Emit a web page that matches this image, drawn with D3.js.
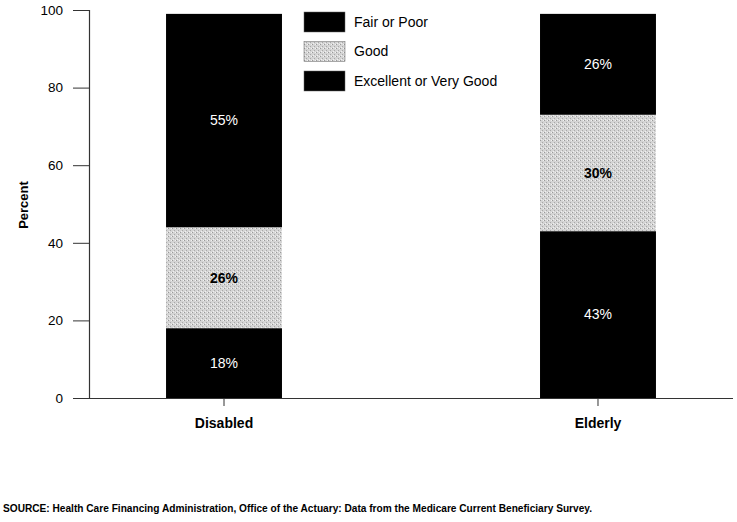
<!DOCTYPE html>
<html><head><meta charset="utf-8">
<script src="https://cdn.jsdelivr.net/npm/d3@7"></script>
<style>body{margin:0;background:#fff}svg{display:block}text{font-family:Arial,"Liberation Sans",Helvetica,sans-serif}</style>
</head><body>
<svg id="c" width="737" height="522"></svg>
<script>
const categories = ["Disabled", "Elderly"];
const seriesNames = ["Excellent or Very Good", "Good", "Fair or Poor"];
const excellent = [18, 43];
const good = [26, 30];
const fairPoor = [55, 26];
const yTicks = [0, 20, 40, 60, 80, 100];
const yTitle = "Percent";
const source = "SOURCE: Health Care Financing Administration, Office of the Actuary: Data from the Medicare Current Beneficiary Survey.";

const svg = d3.select("#c");
const defs = svg.append("defs");
const pat = defs.append("pattern").attr("id","stip").attr("width",4).attr("height",4).attr("patternUnits","userSpaceOnUse");
pat.append("rect").attr("width",4).attr("height",4).attr("fill","#d4d4d4");
pat.append("rect").attr("x",0).attr("y",0).attr("width",1).attr("height",1).attr("fill","#9a9a9a");
pat.append("rect").attr("x",2).attr("y",2).attr("width",1).attr("height",1).attr("fill","#a8a8a8");
pat.append("rect").attr("x",3).attr("y",0).attr("width",1).attr("height",1).attr("fill","#f2f2f2");
pat.append("rect").attr("x",1).attr("y",3).attr("width",1).attr("height",1).attr("fill","#f0f0f0");

const y = d3.scaleLinear().domain([0,100]).range([398,10]);
const x = d3.scaleBand().domain(categories).range([89,733]).paddingInner(0.69).paddingOuter(0.206);

const rows = categories.map((c,i)=>({cat:c, "Excellent or Very Good":excellent[i], "Good":good[i], "Fair or Poor":fairPoor[i]}));
const stack = d3.stack().keys(seriesNames)(rows);
const fills = {"Excellent or Very Good":"#000", "Good":"url(#stip)", "Fair or Poor":"#000"};
const labelStyle = {"Excellent or Very Good":{c:"#fff",w:"normal"}, "Good":{c:"#000",w:"bold"}, "Fair or Poor":{c:"#fff",w:"normal"}};

stack.forEach(s=>{
  const g = svg.append("g");
  g.selectAll("rect").data(s).join("rect")
    .attr("x",d=>x(d.data.cat)).attr("width",x.bandwidth())
    .attr("y",d=>y(d[1])).attr("height",d=>y(d[0])-y(d[1]))
    .attr("fill",fills[s.key]);
  g.selectAll("text").data(s).join("text")
    .attr("x",d=>x(d.data.cat)+x.bandwidth()/2).attr("y",d=>y((d[0]+d[1])/2))
    .attr("dy","0.35em").attr("text-anchor","middle")
    .attr("font-size",14).attr("fill",labelStyle[s.key].c).attr("font-weight",labelStyle[s.key].w)
    .text(d=>(d[1]-d[0])+"%");
});

// y axis
const ya = svg.append("g").attr("transform","translate(89,0)")
  .call(d3.axisLeft(y).tickValues(yTicks).tickSize(16).tickPadding(10));
ya.select(".domain").attr("stroke","#333").attr("stroke-width",1.2);
ya.selectAll(".tick line").attr("stroke","#333");
ya.selectAll("text").attr("font-size",13.5).attr("fill","#000").style("font-family","Arial,'Liberation Sans',sans-serif");

// x axis
const xa = svg.append("g").attr("transform","translate(0,398)")
  .call(d3.axisBottom(x).tickSize(8).tickPadding(12).tickSizeOuter(0));
xa.select(".domain").attr("stroke","#333").attr("stroke-width",1.2).attr("d","M73,0.5H733");
xa.selectAll(".tick line").attr("stroke","#333");
xa.selectAll("text").attr("font-size",14).attr("font-weight","bold").attr("fill","#000").style("font-family","Arial,'Liberation Sans',sans-serif");

svg.append("text").attr("transform","translate(28,205) rotate(-90)").attr("text-anchor","middle")
  .attr("font-size",13).attr("font-weight","bold").text(yTitle);

// legend
const legendOrder = ["Fair or Poor","Good","Excellent or Very Good"];
const lg = svg.append("g").attr("transform","translate(304,12)");
legendOrder.forEach((k,i)=>{
  lg.append("rect").attr("x",0).attr("y",i*29.5).attr("width",41).attr("height",20)
    .attr("fill",fills[k]).attr("stroke","#666").attr("stroke-width",0.5);
  lg.append("text").attr("x",50).attr("y",i*29.5+10).attr("dy","0.35em")
    .attr("font-size",14).text(k);
});

svg.append("text").attr("x",3).attr("y",512).attr("font-size",10.5).attr("font-weight","bold")
  .attr("textLength",589).attr("lengthAdjust","spacingAndGlyphs").text(source);
</script>
</body></html>
